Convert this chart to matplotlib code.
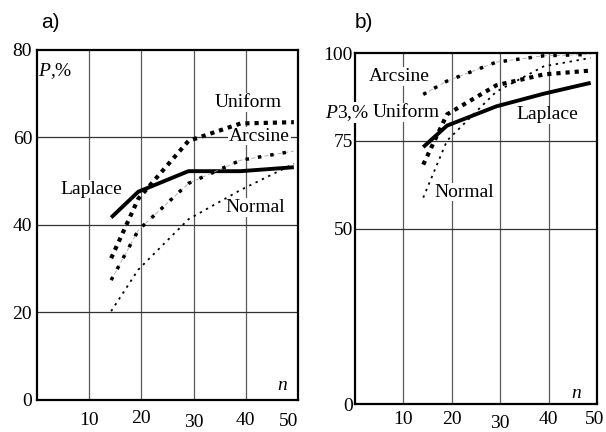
import matplotlib
matplotlib.use("Agg")
import matplotlib.pyplot as plt
from matplotlib.transforms import ScaledTranslation

plt.rcParams["font.family"] = ["Liberation Serif", "DejaVu Serif"]
plt.rcParams["mathtext.fontset"] = "custom"
plt.rcParams["mathtext.it"] = "Liberation Serif:italic"
plt.rcParams["mathtext.rm"] = "Liberation Serif"

# panel a) P, % vs n
a_n = [14.2, 19.4, 29.0, 39.0, 49.2]
a_laplace = [41.7, 47.6, 52.3, 52.3, 53.2]
a_uniform = [32.4, 46.0, 59.2, 63.2, 63.5]
a_arcsine = [27.4, 38.8, 49.5, 54.8, 56.9]
a_normal = [20.3, 29.8, 41.3, 48.0, 54.0]

# panel b) P3, % vs n
b_n = [14.1, 19.0, 29.2, 39.0, 48.7]
b_laplace = [73.2, 79.3, 84.8, 88.4, 91.5]
b_arcsine = [88.2, 92.0, 97.4, 99.2, 99.6]
b_uniform = [68.2, 82.5, 90.8, 93.9, 95.0]
b_normal = [58.8, 75.0, 89.0, 96.2, 98.6]

x_ticks = [10, 20, 30, 40, 50]
x_labels = ["10", "20", "30", "40", "50"]
a_yticks = [0, 20, 40, 60, 80]
b_yticks = [0, 50, 75, 100]

fig = plt.figure(figsize=(6.06, 4.32), dpi=100)
ax_a = fig.add_axes([0.0611, 0.0741, 0.4307, 0.8102])
ax_b = fig.add_axes([0.5858, 0.0648, 0.3993, 0.8125])


def style_axes(ax, yticks, ymax, xpad, ypad, shifts):
    ax.set_xlim(0, 50)
    ax.set_ylim(0, ymax)
    ax.set_xticks(x_ticks)
    ax.set_xticklabels(x_labels)
    ax.set_yticks(yticks)
    ax.tick_params(axis="x", length=0, labelsize=14, pad=xpad)
    ax.tick_params(axis="y", length=0, labelsize=14, pad=ypad)
    for v in x_ticks[:-1]:
        ax.axvline(v, color="0.35", lw=0.9, zorder=1)
    for v in yticks[1:-1]:
        ax.axhline(v, color="0.2", lw=0.9, zorder=1)
    for sp in ax.spines.values():
        sp.set_linewidth(1.6)
    # scanned original has slightly staggered tick numbers
    for lab, (dx, dy) in zip(ax.get_xticklabels(), shifts):
        lab.set_transform(lab.get_transform()
                          + ScaledTranslation(dx / 100, -dy / 100, fig.dpi_scale_trans))


def draw_curves(ax, n, lap, uni, arc, nor):
    ax.plot(n, lap, color="k", lw=2.8, solid_capstyle="butt", zorder=4)
    ax.plot(n, uni, color="k", lw=3.0, ls=(0, (1, 1.2)), dash_capstyle="butt", zorder=4)
    ax.plot(n, arc, color="0.65", lw=0.6, ls=(0, (5, 3)), zorder=4)
    ax.plot(n, arc, color="k", lw=2.5, ls=(0, (1, 2.6)), dash_capstyle="butt", zorder=4)
    ax.plot(n, nor, color="k", lw=1.3, ls=(0, (1.3, 2.6)), dash_capstyle="butt", zorder=4)


def label(ax, x, y, s, **kw):
    ax.text(x, y, s, ha=kw.pop("ha", "center"), va="center", fontsize=14, zorder=3.5,
            bbox=dict(facecolor="white", edgecolor="none", pad=0.5), **kw)


style_axes(ax_a, a_yticks, 80, 9, 3.5, [(0, 0), (0, -2), (0, 2), (0, 0), (-9, 1)])
style_axes(ax_b, b_yticks, 100, 5, 1.5, [(0, 0), (0, 0), (0, 4), (0, 0), (-2, 0)])

draw_curves(ax_a, a_n, a_laplace, a_uniform, a_arcsine, a_normal)
draw_curves(ax_b, b_n, b_laplace, b_uniform, b_arcsine, b_normal)

label(ax_a, 40.5, 68.0, "Uniform")
label(ax_a, 42.6, 60.3, "Arcsine")
label(ax_a, 10.3, 48.2, "Laplace")
label(ax_a, 41.8, 44.0, "Normal")
ax_a.text(0.2, 75.2, "$P$,%", ha="left", va="center", fontsize=14)
ax_a.text(46.9, 3.4, "n", style="italic", ha="center", va="center", fontsize=14)

label(ax_b, 9.1, 93.3, "Arcsine")
label(ax_b, 3.6, 83.0, "Uniform", ha="left")
label(ax_b, 39.7, 82.4, "Laplace")
label(ax_b, 22.5, 60.4, "Normal")
ax_b.text(-6.1, 83.0, r"$\mathit{P3}$,%", ha="left", va="center", fontsize=14,
          clip_on=False, zorder=3.5,
          bbox=dict(facecolor="white", edgecolor="none", pad=0.3))
ax_b.text(45.8, 2.9, "n", style="italic", ha="center", va="center", fontsize=14)

fig.text(50 / 606, 1 - 22 / 432, "a)", family="Liberation Sans", fontsize=15,
         ha="center", va="center")
fig.text(364 / 606, 1 - 22 / 432, "b)", family="Liberation Sans", fontsize=15,
         ha="center", va="center")

fig.savefig("out.png", dpi=100)
